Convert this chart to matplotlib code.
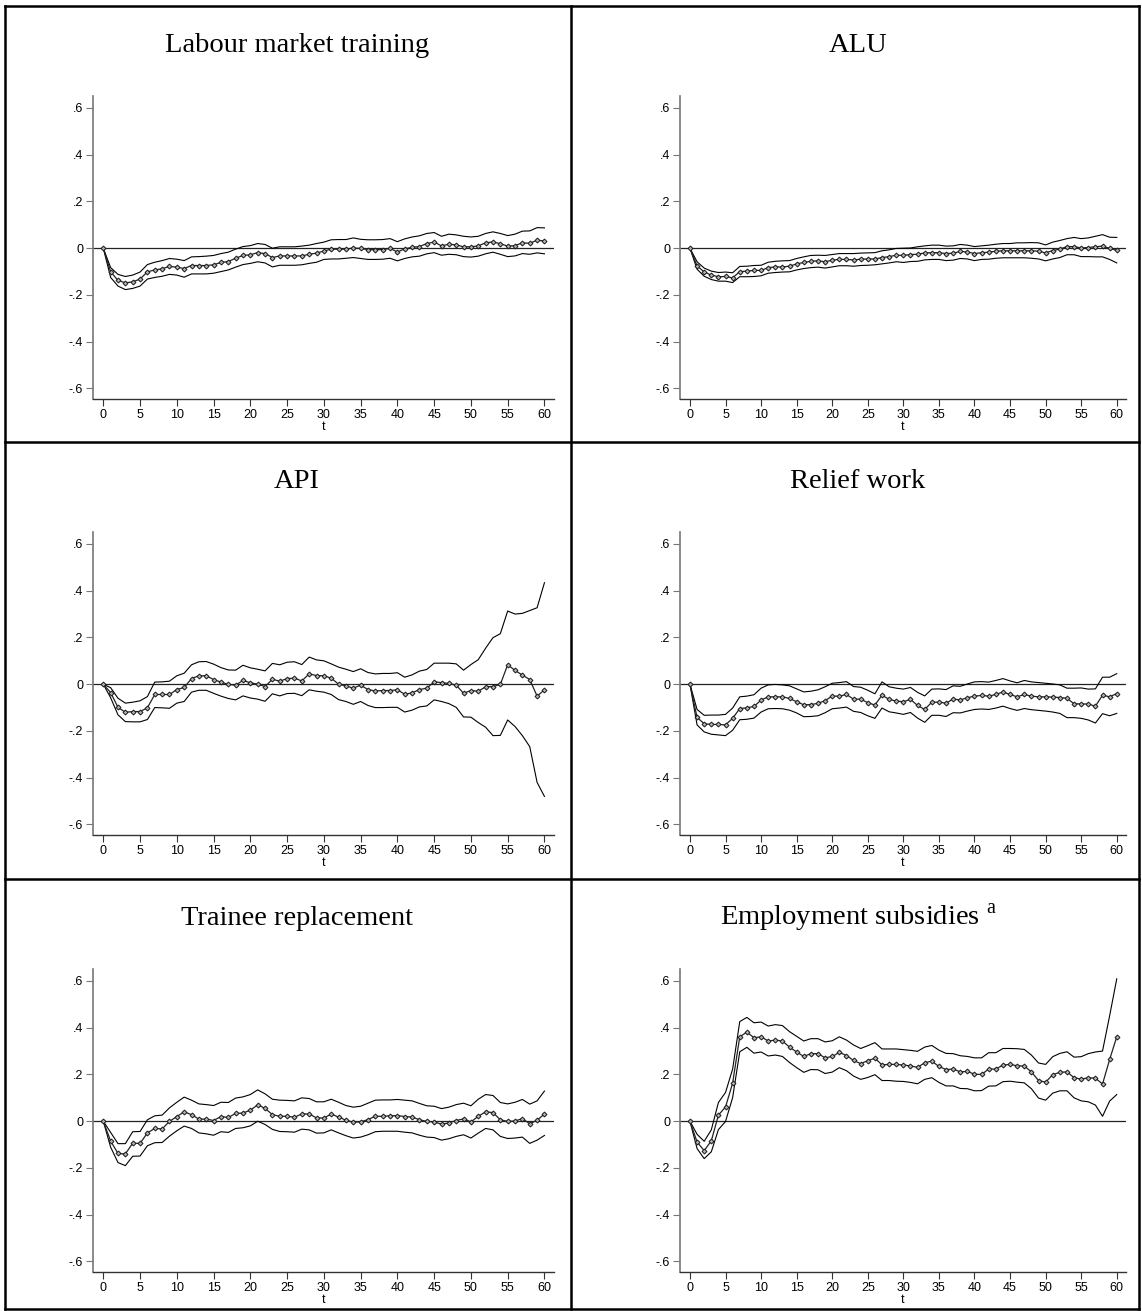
"""Impulse-response style panels: effect over time t for six programmes,
with point estimates (diamonds) and upper/lower confidence bounds."""

import matplotlib

matplotlib.use("Agg")
import matplotlib.pyplot as plt
import numpy as np
from matplotlib.lines import Line2D

plt.rcParams["font.family"] = ["Liberation Sans", "DejaVu Sans"]
plt.rcParams["mathtext.fontset"] = "custom"
plt.rcParams["mathtext.rm"] = "Liberation Serif"

W, H = 1142, 1311
t = np.arange(61)

# ---- estimates and bounds, one row of ten per line ----
training_est = [0, -0.101, -0.138, -0.148, -0.144, -0.132, -0.101, -0.093, -0.088, -0.078,
                -0.081, -0.087, -0.074, -0.074, -0.074, -0.071, -0.061, -0.057, -0.043, -0.031,
                -0.028, -0.019, -0.023, -0.040, -0.033, -0.033, -0.033, -0.033, -0.026, -0.021,
                -0.012, -0.004, -0.004, -0.004, 0.001, -0.001, -0.006, -0.006, -0.006, -0.001,
                -0.016, -0.003, 0.004, 0.007, 0.020, 0.026, 0.010, 0.017, 0.014, 0.006,
                0.006, 0.010, 0.023, 0.027, 0.019, 0.009, 0.011, 0.023, 0.021, 0.034,
                0.031]
training_hi = [0, -0.083, -0.112, -0.121, -0.115, -0.102, -0.070, -0.060, -0.053, -0.044,
               -0.047, -0.053, -0.037, -0.036, -0.034, -0.031, -0.023, -0.017, -0.004, 0.007,
               0.011, 0.020, 0.016, 0.000, 0.006, 0.006, 0.006, 0.009, 0.013, 0.020,
               0.026, 0.036, 0.037, 0.037, 0.044, 0.038, 0.036, 0.036, 0.037, 0.041,
               0.028, 0.040, 0.048, 0.053, 0.063, 0.067, 0.051, 0.060, 0.057, 0.051,
               0.048, 0.051, 0.063, 0.070, 0.063, 0.054, 0.060, 0.073, 0.074, 0.088,
               0.087]
training_lo = [0, -0.125, -0.162, -0.177, -0.172, -0.162, -0.132, -0.125, -0.120, -0.112,
               -0.115, -0.124, -0.110, -0.110, -0.110, -0.107, -0.100, -0.093, -0.081, -0.070,
               -0.065, -0.058, -0.063, -0.080, -0.073, -0.073, -0.073, -0.071, -0.065, -0.060,
               -0.048, -0.046, -0.046, -0.043, -0.040, -0.044, -0.048, -0.048, -0.047, -0.043,
               -0.054, -0.044, -0.037, -0.034, -0.024, -0.019, -0.030, -0.026, -0.028, -0.036,
               -0.038, -0.034, -0.024, -0.017, -0.026, -0.036, -0.033, -0.023, -0.026, -0.020,
               -0.024]

alu_est = [0, -0.075, -0.102, -0.115, -0.122, -0.121, -0.127, -0.100, -0.098, -0.095,
           -0.095, -0.083, -0.080, -0.080, -0.077, -0.067, -0.061, -0.056, -0.054, -0.058,
           -0.051, -0.048, -0.048, -0.050, -0.047, -0.046, -0.046, -0.040, -0.036, -0.030,
           -0.031, -0.027, -0.026, -0.020, -0.019, -0.019, -0.023, -0.021, -0.014, -0.016,
           -0.023, -0.019, -0.017, -0.013, -0.011, -0.011, -0.011, -0.011, -0.011, -0.013,
           -0.020, -0.010, -0.004, 0.007, 0.007, 0.001, 0.003, 0.006, 0.009, -0.001,
           -0.009]
alu_hi = [0, -0.058, -0.085, -0.098, -0.104, -0.102, -0.105, -0.078, -0.077, -0.074,
          -0.073, -0.060, -0.056, -0.054, -0.053, -0.044, -0.037, -0.031, -0.030, -0.031,
          -0.027, -0.023, -0.023, -0.023, -0.021, -0.020, -0.019, -0.011, -0.007, -0.001,
          0.000, 0.001, 0.006, 0.010, 0.013, 0.013, 0.009, 0.010, 0.016, 0.013,
          0.007, 0.010, 0.013, 0.017, 0.020, 0.020, 0.023, 0.023, 0.024, 0.023,
          0.014, 0.026, 0.033, 0.041, 0.046, 0.041, 0.044, 0.051, 0.058, 0.047,
          0.046]
alu_lo = [0, -0.090, -0.120, -0.134, -0.141, -0.141, -0.147, -0.122, -0.122, -0.121,
          -0.118, -0.107, -0.104, -0.102, -0.101, -0.093, -0.087, -0.083, -0.081, -0.085,
          -0.080, -0.075, -0.075, -0.077, -0.074, -0.073, -0.071, -0.067, -0.063, -0.058,
          -0.061, -0.057, -0.056, -0.050, -0.048, -0.048, -0.053, -0.051, -0.044, -0.046,
          -0.053, -0.048, -0.047, -0.043, -0.041, -0.041, -0.041, -0.041, -0.043, -0.046,
          -0.054, -0.046, -0.040, -0.028, -0.028, -0.036, -0.036, -0.037, -0.037, -0.048,
          -0.063]

api_est = [0, -0.036, -0.099, -0.120, -0.117, -0.117, -0.101, -0.044, -0.044, -0.044,
           -0.023, -0.014, 0.024, 0.036, 0.036, 0.020, 0.009, -0.001, -0.004, 0.016,
           0.006, 0.000, -0.010, 0.021, 0.013, 0.024, 0.026, 0.014, 0.044, 0.037,
           0.036, 0.026, 0.000, -0.007, -0.017, -0.004, -0.023, -0.029, -0.027, -0.027,
           -0.024, -0.043, -0.037, -0.023, -0.017, 0.010, 0.007, 0.003, -0.004, -0.039,
           -0.027, -0.030, -0.011, -0.010, -0.001, 0.083, 0.059, 0.039, 0.020, -0.051,
           -0.024]
api_hi = [0, -0.015, -0.060, -0.081, -0.077, -0.071, -0.053, 0.009, 0.010, 0.013,
          0.036, 0.047, 0.083, 0.096, 0.097, 0.086, 0.071, 0.061, 0.060, 0.081,
          0.070, 0.064, 0.057, 0.089, 0.083, 0.094, 0.096, 0.084, 0.116, 0.104,
          0.100, 0.087, 0.073, 0.064, 0.054, 0.066, 0.050, 0.044, 0.046, 0.046,
          0.049, 0.030, 0.040, 0.056, 0.063, 0.090, 0.090, 0.090, 0.087, 0.060,
          0.084, 0.105, 0.154, 0.199, 0.216, 0.313, 0.300, 0.303, 0.315, 0.327,
          0.434]
api_lo = [0, -0.058, -0.131, -0.160, -0.161, -0.161, -0.151, -0.100, -0.101, -0.103,
          -0.081, -0.074, -0.034, -0.026, -0.026, -0.039, -0.051, -0.061, -0.067, -0.050,
          -0.059, -0.064, -0.073, -0.041, -0.050, -0.040, -0.039, -0.049, -0.024, -0.030,
          -0.034, -0.044, -0.066, -0.074, -0.086, -0.074, -0.091, -0.100, -0.100, -0.099,
          -0.099, -0.119, -0.111, -0.097, -0.093, -0.067, -0.074, -0.083, -0.099, -0.140,
          -0.141, -0.164, -0.184, -0.220, -0.219, -0.153, -0.181, -0.220, -0.267, -0.420,
          -0.480]

relief_est = [0, -0.142, -0.169, -0.172, -0.172, -0.174, -0.146, -0.104, -0.101, -0.095,
              -0.068, -0.054, -0.054, -0.054, -0.061, -0.075, -0.088, -0.087, -0.082, -0.070,
              -0.051, -0.051, -0.044, -0.064, -0.064, -0.079, -0.089, -0.047, -0.065, -0.072,
              -0.075, -0.065, -0.091, -0.108, -0.077, -0.077, -0.081, -0.064, -0.067, -0.058,
              -0.051, -0.048, -0.051, -0.044, -0.033, -0.044, -0.054, -0.044, -0.051, -0.054,
              -0.054, -0.055, -0.057, -0.060, -0.084, -0.084, -0.085, -0.094, -0.047, -0.054,
              -0.040]
relief_hi = [0, -0.108, -0.133, -0.132, -0.132, -0.129, -0.102, -0.054, -0.051, -0.045,
             -0.017, -0.003, -0.001, -0.003, -0.007, -0.020, -0.033, -0.030, -0.024, -0.011,
             0.004, 0.007, 0.011, -0.010, -0.013, -0.026, -0.041, 0.010, -0.011, -0.017,
             -0.021, -0.014, -0.035, -0.050, -0.021, -0.020, -0.023, -0.007, -0.009, 0.001,
             0.010, 0.011, 0.009, 0.016, 0.024, 0.014, 0.006, 0.016, 0.010, 0.007,
             0.004, 0.001, -0.003, -0.017, -0.017, -0.016, -0.021, -0.020, 0.030, 0.030,
             0.045]
relief_lo = [0, -0.174, -0.204, -0.214, -0.217, -0.220, -0.197, -0.152, -0.150, -0.145,
             -0.119, -0.105, -0.104, -0.105, -0.111, -0.123, -0.139, -0.138, -0.135, -0.122,
             -0.105, -0.102, -0.098, -0.116, -0.121, -0.135, -0.146, -0.102, -0.118, -0.123,
             -0.129, -0.121, -0.145, -0.163, -0.133, -0.133, -0.138, -0.122, -0.123, -0.115,
             -0.108, -0.106, -0.108, -0.102, -0.094, -0.104, -0.112, -0.104, -0.109, -0.112,
             -0.115, -0.119, -0.125, -0.143, -0.143, -0.146, -0.153, -0.166, -0.126, -0.135,
             -0.125]

trainee_est = [0, -0.085, -0.138, -0.140, -0.094, -0.095, -0.050, -0.031, -0.033, -0.001,
               0.020, 0.040, 0.028, 0.009, 0.009, 0.003, 0.020, 0.016, 0.033, 0.035,
               0.047, 0.070, 0.055, 0.028, 0.021, 0.021, 0.017, 0.031, 0.031, 0.014,
               0.014, 0.030, 0.018, 0.004, -0.004, -0.003, 0.007, 0.021, 0.021, 0.023,
               0.024, 0.020, 0.018, 0.006, -0.001, -0.003, -0.013, -0.007, 0.003, 0.010,
               -0.003, 0.021, 0.040, 0.037, 0.006, -0.001, 0.001, 0.011, -0.011, 0.004,
               0.031]
trainee_hi = [0, -0.048, -0.096, -0.096, -0.045, -0.044, 0.006, 0.023, 0.026, 0.057,
              0.081, 0.103, 0.090, 0.074, 0.071, 0.067, 0.081, 0.080, 0.099, 0.104,
              0.114, 0.134, 0.117, 0.094, 0.090, 0.089, 0.087, 0.100, 0.097, 0.083,
              0.083, 0.094, 0.081, 0.067, 0.060, 0.064, 0.077, 0.090, 0.091, 0.091,
              0.093, 0.090, 0.087, 0.076, 0.066, 0.064, 0.054, 0.060, 0.071, 0.077,
              0.066, 0.094, 0.114, 0.110, 0.080, 0.074, 0.081, 0.093, 0.073, 0.087,
              0.129]
trainee_lo = [0, -0.111, -0.177, -0.190, -0.150, -0.149, -0.105, -0.092, -0.091, -0.064,
              -0.041, -0.021, -0.031, -0.050, -0.054, -0.060, -0.045, -0.048, -0.031, -0.028,
              -0.020, 0.000, -0.014, -0.035, -0.044, -0.045, -0.047, -0.034, -0.037, -0.051,
              -0.050, -0.037, -0.050, -0.062, -0.072, -0.068, -0.058, -0.045, -0.043, -0.043,
              -0.043, -0.047, -0.050, -0.060, -0.068, -0.070, -0.081, -0.075, -0.065, -0.058,
              -0.072, -0.051, -0.031, -0.037, -0.065, -0.074, -0.072, -0.068, -0.095, -0.081,
              -0.061]

subsidy_est = [0, -0.089, -0.126, -0.084, 0.026, 0.061, 0.163, 0.361, 0.381, 0.357,
               0.361, 0.343, 0.347, 0.343, 0.317, 0.296, 0.277, 0.289, 0.289, 0.271,
               0.277, 0.294, 0.281, 0.260, 0.246, 0.259, 0.269, 0.241, 0.243, 0.243,
               0.240, 0.237, 0.230, 0.250, 0.257, 0.234, 0.221, 0.223, 0.211, 0.213,
               0.201, 0.200, 0.223, 0.223, 0.240, 0.243, 0.237, 0.236, 0.211, 0.174,
               0.167, 0.199, 0.209, 0.211, 0.186, 0.180, 0.186, 0.184, 0.159, 0.264,
               0.361]
subsidy_hi = [0, -0.056, -0.086, -0.037, 0.080, 0.123, 0.223, 0.426, 0.444, 0.421,
              0.424, 0.407, 0.413, 0.409, 0.383, 0.363, 0.343, 0.353, 0.353, 0.339,
              0.344, 0.361, 0.347, 0.326, 0.311, 0.323, 0.336, 0.309, 0.309, 0.309,
              0.306, 0.303, 0.299, 0.317, 0.324, 0.304, 0.290, 0.289, 0.280, 0.277,
              0.271, 0.271, 0.293, 0.293, 0.311, 0.311, 0.310, 0.307, 0.283, 0.249,
              0.243, 0.276, 0.290, 0.297, 0.274, 0.276, 0.289, 0.296, 0.300, 0.451,
              0.609]
subsidy_lo = [0, -0.117, -0.160, -0.131, -0.036, -0.001, 0.101, 0.297, 0.316, 0.291,
              0.296, 0.279, 0.283, 0.277, 0.251, 0.229, 0.209, 0.221, 0.220, 0.204,
              0.210, 0.229, 0.216, 0.193, 0.179, 0.187, 0.199, 0.174, 0.174, 0.171,
              0.170, 0.166, 0.160, 0.179, 0.186, 0.166, 0.151, 0.151, 0.140, 0.139,
              0.130, 0.131, 0.150, 0.151, 0.169, 0.171, 0.167, 0.164, 0.139, 0.099,
              0.090, 0.120, 0.130, 0.130, 0.100, 0.087, 0.083, 0.069, 0.021, 0.086,
              0.114]

titles = ["Labour market training", "ALU", "API", "Relief work",
          "Trainee replacement", r"Employment subsidies $^{\rm a}$"]
panels = [
    (training_est, training_hi, training_lo),
    (alu_est, alu_hi, alu_lo),
    (api_est, api_hi, api_lo),
    (relief_est, relief_hi, relief_lo),
    (trainee_est, trainee_hi, trainee_lo),
    (subsidy_est, subsidy_hi, subsidy_lo),
]
yticks = [-0.6, -0.4, -0.2, 0, 0.2, 0.4, 0.6]
ytick_labels = ["-.6", "-.4", "-.2", "0", ".2", ".4", ".6"]
xticks = list(range(0, 61, 5))

# grid geometry in pixels
row_tops = [6, 442, 879]
col_axes = [(93, 554), (680, 1126)]
title_x = [297, 858]


def px_rect(x0, x1, top, bottom):
    return [x0 / W, 1 - bottom / H, (x1 - x0) / W, (bottom - top) / H]


fig = plt.figure(figsize=(W / 100, H / 100), dpi=100)

for i, (title, (est, hi, lo)) in enumerate(zip(titles, panels)):
    row, col = divmod(i, 2)
    top = row_tops[row]
    x0, x1 = col_axes[col]
    ax = fig.add_axes(px_rect(x0, x1, top + 90, top + 393))

    ax.axhline(0, color="#222222", lw=0.9, zorder=1)
    ax.plot(t, hi, color="black", lw=0.8, zorder=2)
    ax.plot(t, lo, color="black", lw=0.8, zorder=2)
    ax.plot(t, est, color="#222222", lw=0.9, marker="D", markersize=2.5,
            markerfacecolor="#b0b0b0", markeredgecolor="#1a1a1a",
            markeredgewidth=0.7, zorder=3)

    ax.set_xlim(-1.4, 61.3)
    ax.set_ylim(-0.645, 0.651)
    ax.set_yticks(yticks)
    ax.set_yticklabels(ytick_labels)
    ax.set_xticks(xticks)
    ax.set_xlabel("t", fontsize=9, labelpad=0)
    ax.tick_params(axis="both", labelsize=9, length=5, width=0.8, direction="out", pad=2)
    ax.tick_params(axis="y", colors="#777777", labelcolor="black")
    ax.tick_params(axis="x", colors="#333333", labelcolor="black")
    ax.spines["top"].set_visible(False)
    ax.spines["right"].set_visible(False)
    ax.spines["left"].set_color("#777777")
    ax.spines["left"].set_linewidth(1.2)
    ax.spines["bottom"].set_color("#333333")
    ax.spines["bottom"].set_linewidth(1.0)

    fig.text(title_x[col] / W, 1 - (top + 46) / H, title,
             family=["Liberation Serif", "DejaVu Serif"], fontsize=20.5,
             ha="center", va="baseline")

# panel frames
frame_kw = dict(color="black", lw=1.8, transform=fig.transFigure)
left, right, top_y, bot_y = 5, 1139, 6, 1309
for y in [top_y, 442, 879, bot_y]:
    fig.add_artist(Line2D([left / W, right / W], [1 - y / H, 1 - y / H], **frame_kw))
for x in [left, 571, right]:
    fig.add_artist(Line2D([x / W, x / W], [1 - top_y / H, 1 - bot_y / H], **frame_kw))

fig.savefig("out.png", dpi=100, facecolor="white")
